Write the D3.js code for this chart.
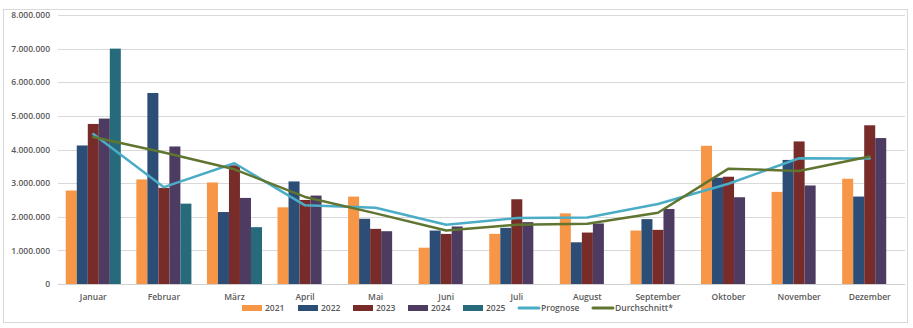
<!DOCTYPE html>
<html><head><meta charset="utf-8">
<script src="https://cdn.jsdelivr.net/npm/d3@7"></script>
<style>body{margin:0;background:#fff}svg{display:block}text{font-family:"Open Sans","Liberation Sans",Arial,sans-serif}</style>
</head><body><div id="chart"></div>
<script>
const months = ["Januar","Februar","März","April","Mai","Juni","Juli","August","September","Oktober","November","Dezember"];
const seriesNames = ["2021","2022","2023","2024","2025"];
const v2021 = [2780000,3110000,3020000,2280000,2600000,1080000,1490000,2100000,1590000,4110000,2740000,3130000];
const v2022 = [4120000,5680000,2140000,3050000,1940000,1590000,1670000,1240000,1930000,3160000,3690000,2600000];
const v2023 = [4760000,2860000,3530000,2500000,1640000,1490000,2520000,1530000,1610000,3190000,4240000,4720000];
const v2024 = [4920000,4090000,2560000,2630000,1570000,1710000,1840000,1800000,2230000,2580000,2930000,4340000];
const v2025 = [7000000,2390000,1690000,null,null,null,null,null,null,null,null,null];
const prognose = [4460000,2880000,3590000,2340000,2270000,1760000,1960000,1980000,2380000,2980000,3740000,3730000];
const durchschnitt = [4370000,3910000,3410000,2590000,2100000,1590000,1760000,1790000,2120000,3430000,3360000,3790000];
const yTicks = [0,1000000,2000000,3000000,4000000,5000000,6000000,7000000,8000000];
const colors = ["#F79646","#2C4D75","#772C2A","#4E3B62","#276A7C"];
const lineColors = {Prognose:"#4BACC6", "Durchschnitt*":"#5F7530"};

const W=913,H=328;
const svg=d3.select("#chart").append("svg").attr("width",W).attr("height",H);
svg.append("rect").attr("x",3.5).attr("y",9.5).attr("width",904).attr("height",313).attr("fill","#fff").attr("stroke","#d9d9d9");

const x=d3.scaleBand().domain(months).range([58,905]).paddingInner(0.22).paddingOuter(0.11);
const y=d3.scaleLinear().domain([0,8000000]).range([284,15]);
const fmt=v=>d3.format(",")(v).replace(/,/g,".");

// grid
svg.append("g").selectAll("line").data(yTicks).join("line")
 .attr("x1",58).attr("x2",905).attr("y1",d=>Math.round(y(d))+0.5).attr("y2",d=>Math.round(y(d))+0.5)
 .attr("stroke",d=>d===0?"#d0d0d0":"#d9d9d9").attr("stroke-width",1);

const yAxis=d3.axisLeft(y).tickValues(yTicks).tickFormat(fmt).tickSize(0).tickPadding(0);
const ga=svg.append("g").attr("transform","translate(50,0)").call(yAxis);
ga.select(".domain").remove();
ga.selectAll("text").attr("fill","#595959").style("font-size","8.5px").style("font-weight","600");

const xAxis=d3.axisBottom(x).tickSize(0).tickPadding(0);
const gx=svg.append("g").attr("transform","translate(0,297)").call(xAxis);
gx.select(".domain").remove();
gx.selectAll("text").attr("fill","#595959").style("font-size","8.5px").style("font-weight","600").attr("dy","0.35em");

const allVals=[v2021,v2022,v2023,v2024,v2025];
const x1=d3.scaleBand().domain(seriesNames).range([0,x.bandwidth()]);
const groups=svg.append("g").selectAll("g").data(months).join("g").attr("transform",d=>`translate(${x(d)},0)`);
groups.selectAll("rect").data((m,i)=>seriesNames.map((s,j)=>({s,j,v:allVals[j][i]})).filter(d=>d.v!=null))
 .join("rect").attr("x",d=>x1(d.s)).attr("width",x1.bandwidth()).attr("y",d=>y(d.v)).attr("height",d=>y(0)-y(d.v))
 .attr("fill",d=>colors[d.j]);

const line=d3.line().x((d,i)=>x(months[i])+x.bandwidth()/2).y(d=>y(d));
svg.append("path").datum(prognose).attr("d",line).attr("fill","none").attr("stroke",lineColors.Prognose).attr("stroke-width",2.5).attr("stroke-linejoin","round").attr("stroke-linecap","round");
svg.append("path").datum(durchschnitt).attr("d",line).attr("fill","none").attr("stroke",lineColors["Durchschnitt*"]).attr("stroke-width",2.5).attr("stroke-linejoin","round").attr("stroke-linecap","round");

// legend
const lg=svg.append("g").attr("transform","translate(0,308)");
const legItems=[...seriesNames.map((s,j)=>({name:s,type:"bar",c:colors[j],x:[242,298,353,408,463][j]})),
 {name:"Prognose",type:"line",c:lineColors.Prognose,x:518},{name:"Durchschnitt*",type:"line",c:lineColors["Durchschnitt*"],x:592}];
legItems.forEach(it=>{
 if(it.type==="bar") lg.append("rect").attr("x",it.x).attr("y",-3).attr("width",20).attr("height",6).attr("fill",it.c);
 else lg.append("line").attr("x1",it.x+1).attr("x2",it.x+21).attr("y1",0).attr("y2",0).attr("stroke",it.c).attr("stroke-width",3).attr("stroke-linecap","round");
 lg.append("text").attr("x",it.x+23).attr("y",0).attr("dy","0.35em").attr("fill","#595959").style("font-size","8.5px").style("font-weight","600").text(it.name);
});
</script></body></html>
